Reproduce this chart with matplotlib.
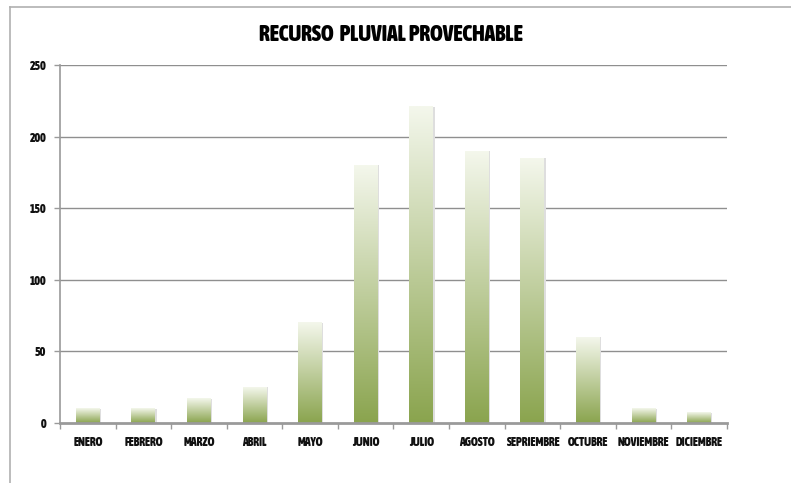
import numpy as np
import matplotlib
matplotlib.use('Agg')
import matplotlib.pyplot as plt
from matplotlib import font_manager
from matplotlib.font_manager import FontProperties
from matplotlib.lines import Line2D

# data
months = ['ENERO', 'FEBRERO', 'MARZO', 'ABRIL', 'MAYO', 'JUNIO', 'JULIO',
          'AGOSTO', 'SEPRIEMBRE', 'OCTUBRE', 'NOVIEMBRE', 'DICIEMBRE']
values = [10, 10, 17, 25, 70, 180, 221, 190, 185, 60, 10, 7]
yticks = [0, 50, 100, 150, 200, 250]


def _num(v, table):
    if isinstance(v, str):
        return table.get(v, 500 if table is font_manager.stretch_dict else 400)
    return v


# look for a bold narrow face; fall back to Roboto bold
best = None
for f in font_manager.fontManager.ttflist:
    st = _num(f.stretch, font_manager.stretch_dict)
    w = _num(f.weight, font_manager.weight_dict)
    narrow = st < 500 or 'ondensed' in f.name or 'Narrow' in f.name
    if narrow and w >= 600 and f.style == 'normal':
        score = (abs(st - 300), -w)
        if best is None or score < best[0]:
            best = (score, f.fname)

if best is not None:
    fp_title = FontProperties(fname=best[1], size=15.5)
    fp_tick = FontProperties(fname=best[1], size=8.5)
else:
    fp_title = FontProperties(family='Roboto', weight='black', size=13)
    fp_tick = FontProperties(family='Roboto', weight='bold', size=6.5)

fig = plt.figure(figsize=(7.91, 4.83), dpi=100)
ax = fig.add_axes([0.0759, 0.1242, 0.919 - 0.0759, 0.8648 - 0.1242])

# outer chart frame
fig.add_artist(Line2D([10/791, 10/791], [0, 1 - 7/483], color='#b0b0b0', lw=1.2))
fig.add_artist(Line2D([10/791, 1], [1 - 7/483, 1 - 7/483], color='#b0b0b0', lw=1.2))

# vertical gradient: green at bottom, near white at top
bottom = np.array([138, 164, 78]) / 255
top = np.array([244, 247, 236]) / 255
t = np.linspace(0, 1, 256)[:, None]
grad = (bottom * (1 - t) + top * t)[:, None, :]

width = 0.43
x = np.arange(len(months))
for xi, v in zip(x, values):
    ax.bar(xi + 0.025, v, width=width, color='#dedede', zorder=2, linewidth=0)
    ax.imshow(grad, extent=[xi - width / 2, xi + width / 2, 0, v],
              origin='lower', aspect='auto', zorder=3, interpolation='bilinear')

ax.set_xlim(-0.5, len(months) - 0.5)
ax.set_ylim(0, 250)

for y in yticks[1:]:
    ax.axhline(y, color='#8f8f8f', lw=1.0, zorder=1)

ax.set_yticks(yticks)
ax.set_xticks(x)
ax.set_xticklabels(months)
ax.set_xticks(np.arange(len(months) + 1) - 0.5, minor=True)
ax.tick_params(axis='x', which='major', length=0, pad=9)
ax.tick_params(axis='x', which='minor', length=4, color='#9a9a9a', width=1)
ax.tick_params(axis='y', length=4, color='#9a9a9a', width=1, pad=6)

for lab in ax.get_xticklabels() + ax.get_yticklabels():
    lab.set_fontproperties(fp_tick)
    lab.set_color('#111111')

for s in ['top', 'right']:
    ax.spines[s].set_visible(False)
ax.spines['left'].set_color('#9a9a9a')
ax.spines['left'].set_linewidth(1.2)
ax.spines['bottom'].set_color('#9a9a9a')
ax.spines['bottom'].set_linewidth(2)
ax.spines['bottom'].set_zorder(4)

fig.text(0.494, 1 - 35/483, 'RECURSO  PLUVIAL PROVECHABLE', ha='center', va='center',
         fontproperties=fp_title, color='black')

fig.savefig('out.png', dpi=100)
